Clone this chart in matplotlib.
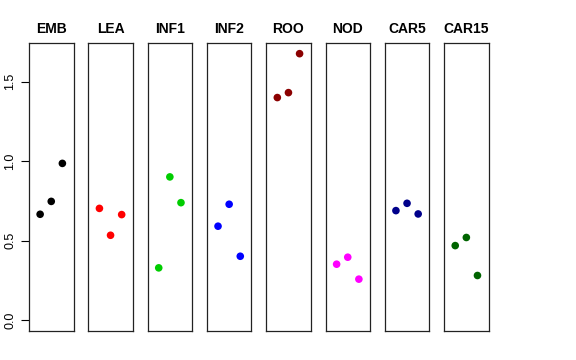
import matplotlib
matplotlib.use("Agg")
import matplotlib.pyplot as plt

plt.rcParams["font.family"] = ["Liberation Sans", "DejaVu Sans"]

groups = ["EMB", "LEA", "INF1", "INF2", "ROO", "NOD", "CAR5", "CAR15"]
colors = ["black", "red", "#00CD00", "blue", "#8B0000", "magenta", "#00008B", "#006400"]
values = {
    "EMB": [0.667, 0.748, 0.987],
    "LEA": [0.704, 0.535, 0.665],
    "INF1": [0.330, 0.902, 0.740],
    "INF2": [0.592, 0.730, 0.403],
    "ROO": [1.401, 1.432, 1.677],
    "NOD": [0.353, 0.397, 0.259],
    "CAR5": [0.690, 0.736, 0.669],
    "CAR15": [0.470, 0.521, 0.282],
}
reps = [1, 2, 3]

W, H = 576, 360
fig = plt.figure(figsize=(W / 100, H / 100), dpi=100)

ymax = max(max(v) for v in values.values())
pad = 0.04 * ymax
for i, (g, c) in enumerate(zip(groups, colors)):
    left = 29 + 59.3 * i
    ax = fig.add_axes([left / W, 1 - 331 / H, 44.5 / W, 288 / H])
    ax.scatter(reps, values[g], s=30, color=c, edgecolors="none", zorder=3)
    ax.set_xlim(0, 4)
    ax.set_ylim(-pad, ymax + pad)
    ax.set_xticks([])
    ax.set_title(g, fontsize=10, fontweight="bold", pad=7)
    for s in ax.spines.values():
        s.set_linewidth(0.9)
        s.set_color("#222222")
    if i == 0:
        ax.set_yticks([0.0, 0.5, 1.0, 1.5])
        ax.set_yticklabels(["0.0", "0.5", "1.0", "1.5"], rotation=90, va="center")
        ax.tick_params(axis="y", length=6, labelsize=9, pad=3)
    else:
        ax.set_yticks([])

fig.savefig("out.png", dpi=100)
